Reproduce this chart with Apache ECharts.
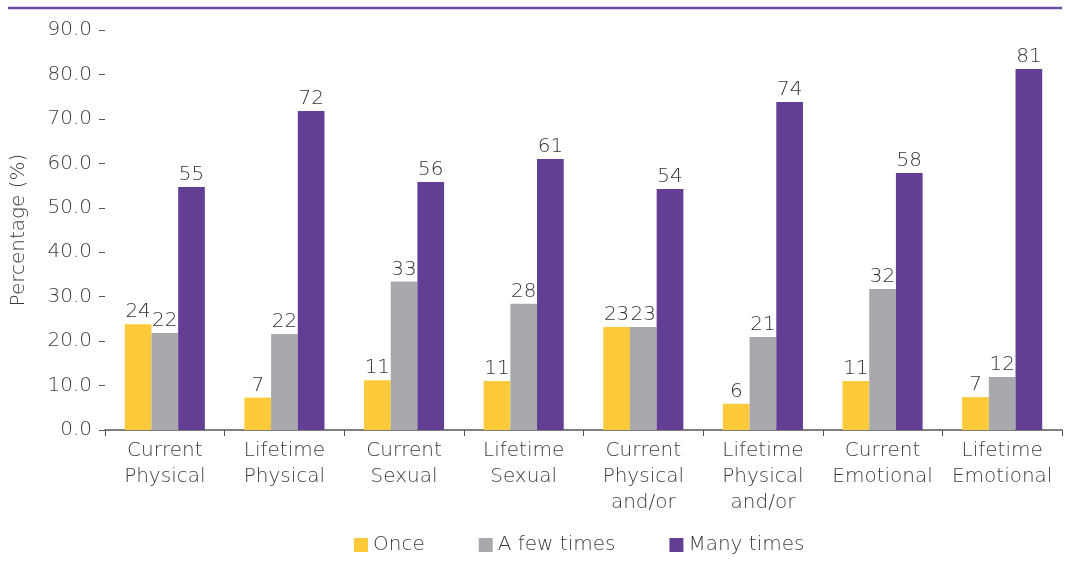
<!DOCTYPE html>
<html>
<head>
<meta charset="utf-8">
<script src="https://cdn.jsdelivr.net/npm/echarts@6/dist/echarts.min.js"></script>
<style>
  html, body { margin: 0; padding: 0; background: #fff; }
  #chart { width: 1066px; height: 565px; }
</style>
</head>
<body>
<div id="chart"></div>
<script>
// Categories of violence and how often it was experienced
const categories = [
  'Current\nPhysical', 'Lifetime\nPhysical', 'Current\nSexual', 'Lifetime\nSexual',
  'Current\nPhysical\nand/or', 'Lifetime\nPhysical\nand/or', 'Current\nEmotional', 'Lifetime\nEmotional'
];
const once = [23.8, 7.3, 11.2, 11.0, 23.2, 5.9, 11.0, 7.4];
const fewTimes = [21.8, 21.6, 33.4, 28.4, 23.2, 20.9, 31.7, 11.9];
const manyTimes = [54.7, 71.8, 55.8, 61.0, 54.2, 73.8, 57.8, 81.2];
const seriesNames = ['Once', 'A few times', 'Many times'];
const yTicks = [0, 10, 20, 30, 40, 50, 60, 70, 80, 90];

const FONT = '"DejaVu Sans", sans-serif';
const WEIGHT = 200;
const TEXT = '#3c3c3c';
const colors = ['#FEC93B', '#A8A9AC', '#623F95'];

const chart = echarts.init(document.getElementById('chart'));

function barSeries(name, data, color) {
  return {
    name: name,
    type: 'bar',
    data: data,
    barWidth: 26.7,
    barGap: '0%',
    itemStyle: { color: color },
    label: {
      show: true,
      position: 'top',
      distance: 2,
      fontFamily: FONT,
      fontWeight: WEIGHT,
      fontSize: 20,
      color: '#333',
      formatter: p => Math.round(p.value)
    }
  };
}

chart.setOption({
  animation: false,
  textStyle: { fontFamily: FONT, fontWeight: WEIGHT },
  graphic: [{
    type: 'line',
    shape: { x1: 8, y1: 8, x2: 1062, y2: 8 },
    style: { stroke: '#6B4C9E', lineWidth: 2.5 }
  }],
  grid: { left: 105, right: 4, top: 30, bottom: 135, outerBoundsMode: 'none', containLabel: false },
  legend: {
    top: 530,
    left: 349,
    itemWidth: 14,
    itemHeight: 14,
    itemGap: 54,
    itemTextGap: 8,
    icon: 'rect',
    textStyle: { fontFamily: FONT, fontWeight: WEIGHT, fontSize: 20, color: TEXT },
    data: seriesNames
  },
  xAxis: {
    type: 'category',
    data: categories,
    axisLine: { lineStyle: { color: '#555', width: 1.5 } },
    axisTick: { show: true, length: 6, lineStyle: { color: '#555' } },
    axisLabel: {
      fontFamily: FONT,
      fontWeight: WEIGHT,
      fontSize: 20,
      color: TEXT,
      lineHeight: 26,
      margin: 8,
      interval: 0
    }
  },
  yAxis: {
    type: 'value',
    min: yTicks[0],
    max: yTicks[yTicks.length - 1],
    interval: 10,
    name: 'Percentage (%)',
    nameLocation: 'middle',
    nameGap: 76,
    nameRotate: 90,
    nameTextStyle: { fontFamily: FONT, fontWeight: WEIGHT, fontSize: 20, color: TEXT },
    axisLine: { show: false },
    axisTick: { show: true, length: 6, lineStyle: { color: '#555' } },
    splitLine: { show: false },
    axisLabel: {
      fontFamily: FONT,
      fontWeight: WEIGHT,
      fontSize: 20,
      color: TEXT,
      margin: 13,
      formatter: v => v.toFixed(1)
    }
  },
  series: [
    barSeries(seriesNames[0], once, colors[0]),
    barSeries(seriesNames[1], fewTimes, colors[1]),
    barSeries(seriesNames[2], manyTimes, colors[2])
  ]
});
</script>
</body>
</html>
